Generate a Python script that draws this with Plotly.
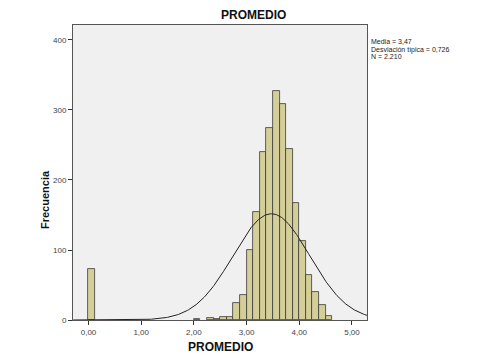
import numpy as np
import plotly.graph_objects as go

# Histogram data (bin left edges, width 0.125)
bin_left = [0.0, 2.0, 2.25, 2.375, 2.5, 2.625, 2.75, 2.875, 3.0, 3.125, 3.25, 3.375,
            3.5, 3.625, 3.75, 3.875, 4.0, 4.125, 4.25, 4.375, 4.5]
counts = [73, 1, 3, 2, 4, 5, 25, 36, 100, 154, 240, 274,
          327, 309, 244, 167, 113, 65, 40, 22, 6]
bin_width = 0.125

mean_val = 3.47
sd_val = 0.726
n_val = 2210

x_tick_vals = [0, 1, 2, 3, 4, 5]
x_tick_text = ["0,00", "1,00", "2,00", "3,00", "4,00", "5,00"]
y_tick_vals = [0, 100, 200, 300, 400]
stats_lines = ["Media = 3,47", "Desviación típica = 0,726", "N = 2.210"]

centers = [b + bin_width / 2 for b in bin_left]

xs = np.linspace(-0.29, 5.29, 400)
ys = n_val * bin_width / (sd_val * np.sqrt(2 * np.pi)) * np.exp(-0.5 * ((xs - mean_val) / sd_val) ** 2)

fig = go.Figure()
fig.add_trace(go.Bar(x=centers, y=counts, width=bin_width,
                     marker=dict(color="#d4cf98", line=dict(color="#3a3a3a", width=0.8)),
                     showlegend=False))
fig.add_trace(go.Scatter(x=xs, y=ys, mode="lines",
                         line=dict(color="#222222", width=1), showlegend=False))

font_family = "Liberation Sans, Arial, sans-serif"
# page has an 8px body margin: plot area target x 73..367, y 25..320
L, R, T, B = 65, 115, 17, 42
W, H = 474, 354
plot_h = H - T - B

annotations = [
    dict(text="<b>PROMEDIO</b>", xref="paper", yref="paper",
         x=(253 - 73) / 294, y=1, yshift=10, showarrow=False,
         xanchor="center", yanchor="middle",
         font=dict(size=12, color="#111111", family=font_family)),
    dict(text="<b>PROMEDIO</b>", xref="paper", yref="paper",
         x=0.5, y=0, yshift=-27, showarrow=False,
         xanchor="center", yanchor="middle",
         font=dict(size=12, color="#111111", family=font_family)),
    dict(text="<b>Frecuencia</b>", xref="paper", yref="paper",
         x=0, xshift=-28, y=(320 - 200) / plot_h, showarrow=False, textangle=-90,
         xanchor="center", yanchor="middle",
         font=dict(size=11, color="#111111", family=font_family)),
]
for i, line in enumerate(stats_lines):
    yc = 42 + 7.5 * i
    annotations.append(dict(text=line, xref="paper", yref="paper", x=1, xshift=2,
                            y=(320 - yc) / plot_h, showarrow=False,
                            xanchor="left", yanchor="middle", align="left",
                            font=dict(size=7, color="#222222", family=font_family)))

fig.update_layout(
    width=W, height=H,
    margin=dict(l=L, r=R, t=T, b=B),
    paper_bgcolor="white",
    plot_bgcolor="#f0f0f0",
    bargap=0,
    font=dict(family=font_family, color="#333333", size=8),
    xaxis=dict(range=[-0.294, 5.285], tickvals=x_tick_vals, ticktext=x_tick_text,
               showgrid=False, zeroline=False, showline=True, mirror=True,
               linecolor="#555555", linewidth=1, ticks="outside", ticklen=4,
               tickcolor="#333333", tickfont=dict(size=8, color="#444444")),
    yaxis=dict(range=[0, 421.4], tickvals=y_tick_vals,
               showgrid=False, zeroline=False, showline=True, mirror=True,
               linecolor="#555555", linewidth=1, ticks="outside", ticklen=4,
               tickcolor="#333333", tickfont=dict(size=8, color="#444444")),
    annotations=annotations,
)

fig.write_html("out.html")
